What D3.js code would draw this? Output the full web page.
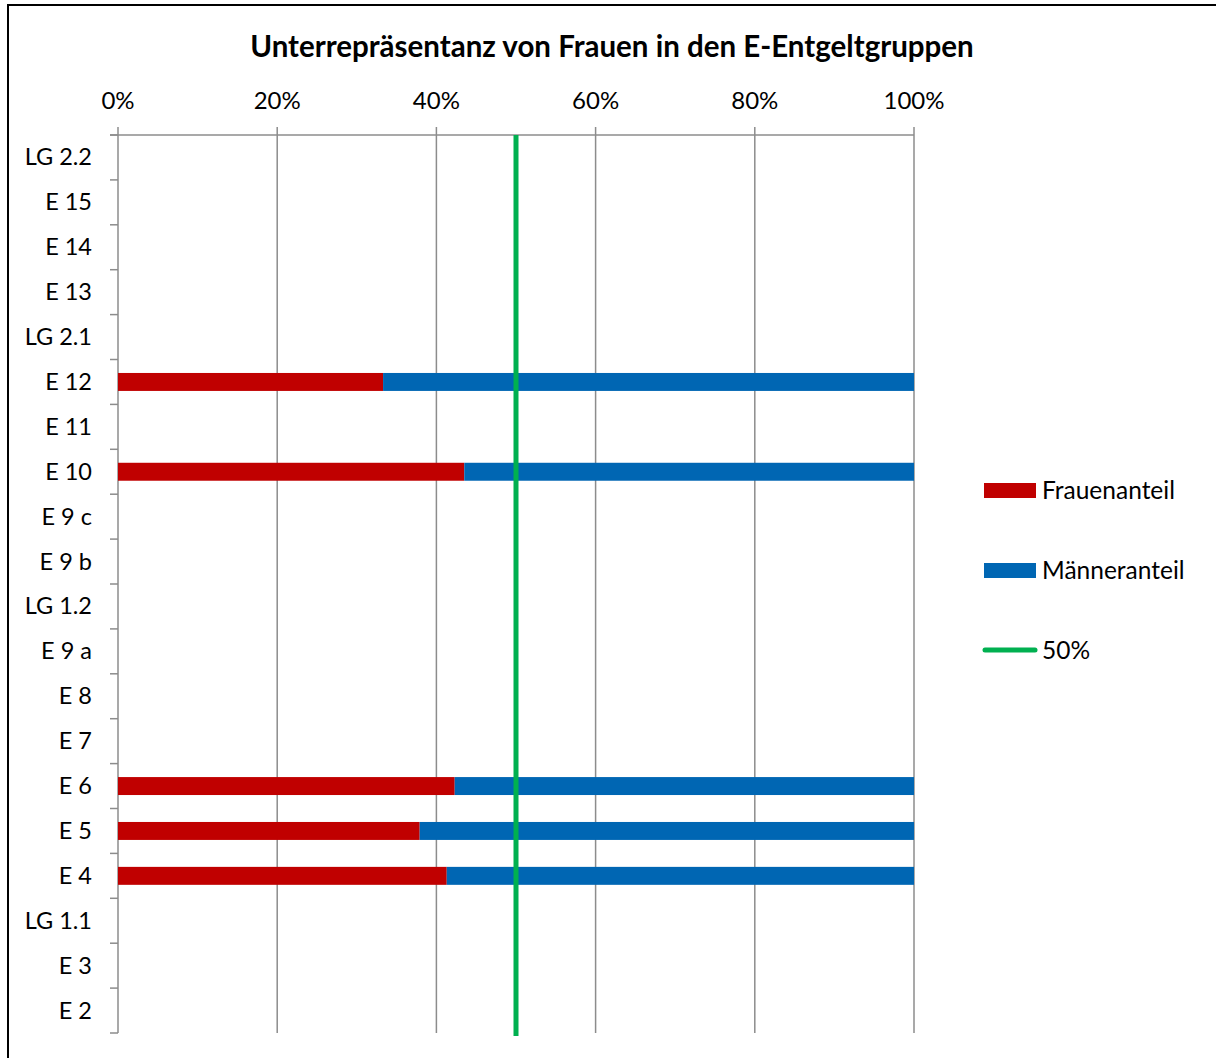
<!DOCTYPE html>
<html><head><meta charset="utf-8">
<script src="https://cdn.jsdelivr.net/npm/d3@7"></script>
<style>body{margin:0;background:#fff;} text{font-family:Lato,"Open Sans",sans-serif;}</style>
</head><body>
<svg id="c" width="1216" height="1058"></svg>
<script>
const categories = ["LG 2.2","E 15","E 14","E 13","LG 2.1","E 12","E 11","E 10","E 9 c","E 9 b","LG 1.2","E 9 a","E 8","E 7","E 6","E 5","E 4","LG 1.1","E 3","E 2"];
const frauen = [null,null,null,null,null,0.333,null,0.435,null,null,null,null,null,null,0.423,0.379,0.413,null,null,null];
const maenner = frauen.map(v => v == null ? null : 1 - v);
const xTicks = [0,0.2,0.4,0.6,0.8,1];
const xTickLabels = ["0%","20%","40%","60%","80%","100%"];
const refValue = 0.5;
const title = "Unterrepräsentanz von Frauen in den E-Entgeltgruppen";
const legendItems = [{label:"Frauenanteil",type:"bar",color:"#C00000"},{label:"Männeranteil",type:"bar",color:"#0066B3"},{label:"50%",type:"line",color:"#00B050"}];

const svg = d3.select("#c");
svg.append("rect").attr("x",0).attr("y",0).attr("width",1216).attr("height",1058).attr("fill","#fff");
svg.append("path").attr("d","M8,1060 L8,5 L1220,5").attr("fill","none").attr("stroke","#000").attr("stroke-width",2);

const x = d3.scaleLinear().domain([0,1]).range([118,914]);
const y = d3.scaleBand().domain(categories).range([135,1033]).paddingInner(0.6).paddingOuter(0.3);
const yOuter = d3.scaleBand().domain(categories).range([135,1033]);

svg.append("text").attr("x",612).attr("y",57).attr("text-anchor","middle")
  .attr("font-weight","bold").attr("font-size",29.5).attr("fill","#000").text(title);

// gridlines
svg.append("g").selectAll("line").data(xTicks).join("line")
  .attr("x1",d=>x(d)).attr("x2",d=>x(d)).attr("y1",127).attr("y2",1033)
  .attr("stroke","#8c8c8c").attr("stroke-width",1.5);
// top axis line
svg.append("line").attr("x1",110).attr("x2",914).attr("y1",135).attr("y2",135).attr("stroke","#8c8c8c").attr("stroke-width",1.5);
// x labels
svg.append("g").selectAll("text").data(xTicks).join("text")
  .attr("x",d=>x(d)).attr("y",109).attr("text-anchor","middle").attr("font-size",24).attr("fill","#000")
  .text((d,i)=>xTickLabels[i]);
// y ticks at boundaries
const bounds = categories.map(c=>yOuter(c)).concat([1033]);
svg.append("g").selectAll("line").data(bounds).join("line")
  .attr("x1",110).attr("x2",118).attr("y1",d=>d).attr("y2",d=>d)
  .attr("stroke","#8c8c8c").attr("stroke-width",1.5);
// y labels
svg.append("g").selectAll("text").data(categories).join("text")
  .attr("x",92).attr("y",d=>yOuter(d)+yOuter.bandwidth()/2+8).attr("text-anchor","end")
  .attr("font-size",23.5).attr("fill","#000").text(d=>d);

// bars
const idx = d3.range(categories.length);
svg.append("g").selectAll("rect").data(idx.filter(i=>frauen[i]!=null)).join("rect")
  .attr("x",x(0)).attr("y",i=>y(categories[i])).attr("height",y.bandwidth())
  .attr("width",i=>x(frauen[i])-x(0)).attr("fill","#C00000");
svg.append("g").selectAll("rect").data(idx.filter(i=>maenner[i]!=null)).join("rect")
  .attr("x",i=>x(frauen[i])).attr("y",i=>y(categories[i])).attr("height",y.bandwidth())
  .attr("width",i=>x(frauen[i]+maenner[i])-x(frauen[i])).attr("fill","#0066B3");

// 50% line
svg.append("line").attr("x1",x(refValue)).attr("x2",x(refValue)).attr("y1",135).attr("y2",1036)
  .attr("stroke","#00B050").attr("stroke-width",5);

// legend
const lg = svg.append("g");
legendItems.forEach((it,i)=>{
  const cy = 490 + i*80;
  if(it.type==="bar"){
    lg.append("rect").attr("x",984).attr("y",cy-7).attr("width",52).attr("height",15).attr("fill",it.color);
  } else {
    lg.append("line").attr("x1",985).attr("x2",1035).attr("y1",cy).attr("y2",cy)
      .attr("stroke",it.color).attr("stroke-width",5).attr("stroke-linecap","round");
  }
  lg.append("text").attr("x",1042).attr("y",cy+9).attr("font-size",24.5).attr("fill","#000").text(it.label);
});
</script>
</body></html>
